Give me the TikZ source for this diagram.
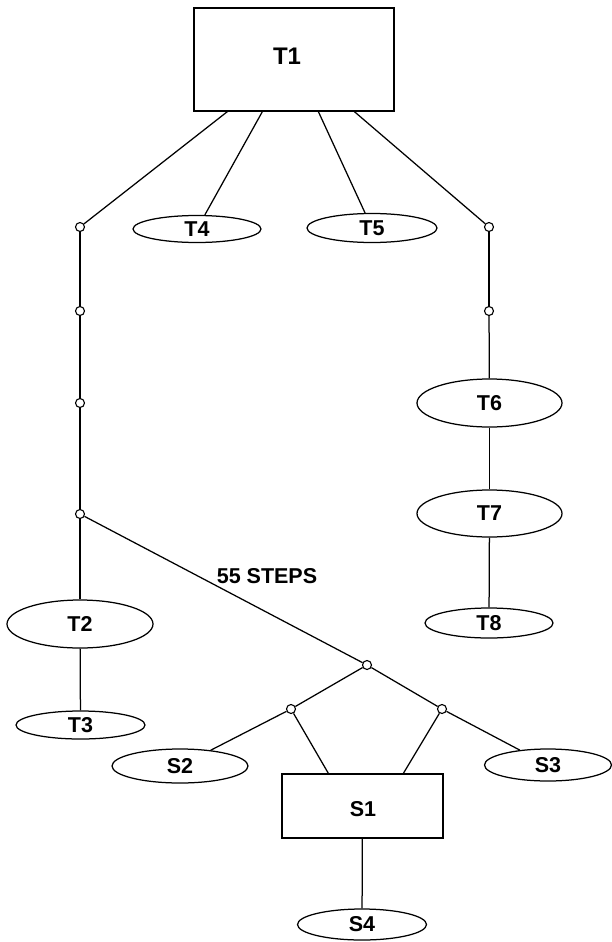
\documentclass[tikz,border=0pt]{standalone}
\usepackage{fontspec}
\setmainfont{Liberation Sans}
\usetikzlibrary{shapes.geometric}
\begin{document}
\begin{tikzpicture}[x=1pt,y=-1pt,line width=1.25pt,
  every node/.style={font=\fontsize{21.5}{25}\selectfont\bfseries},
  oval/.style={draw,ellipse,inner sep=0pt},
  box/.style={draw,rectangle,inner sep=0pt},
  junc/.style={draw,circle,fill=white,inner sep=0pt,minimum size=9pt,line width=1.1pt}]
\useasboundingbox (0,0) rectangle (611,942);
% boxes
\node[box,minimum width=200pt,minimum height=103pt] (T1) at (294,59.5) {};
\node[font=\fontsize{24}{28}\selectfont\bfseries] (T1t) at (287,56) {T1};
\node[box,minimum width=161pt,minimum height=64pt] (S1) at (362.5,806) {};
\node (S1t) at (363,809) {S1};
% ellipses
\node[oval,minimum width=128pt,minimum height=27pt] (T4) at (197,229) {T4};
\node[oval,minimum width=130pt,minimum height=29pt] (T5) at (372,228) {T5};
\node[oval,minimum width=145pt,minimum height=48pt] (T6) at (489.5,403) {T6};
\node[oval,minimum width=145pt,minimum height=47pt] (T7) at (489.5,513.5) {T7};
\node[oval,minimum width=128pt,minimum height=30pt] (T8) at (489,623) {T8};
\node[oval,minimum width=146pt,minimum height=48pt] (T2) at (80,624) {T2};
\node[oval,minimum width=129pt,minimum height=28pt] (T3) at (80.5,725) {T3};
\node[oval,minimum width=136pt,minimum height=34pt] (S2) at (180,766) {S2};
\node[oval,minimum width=127pt,minimum height=32pt] (S3) at (548,765) {S3};
\node[oval,minimum width=129pt,minimum height=31pt] (S4) at (362,924.5) {S4};
% label
\node (lab) at (267,576) {55 STEPS};
% junctions
\node[junc] (j1) at (80,227) {};
\node[junc] (j2) at (80,311) {};
\node[junc] (j3) at (80,403) {};
\node[junc] (j4) at (80,514) {};
\node[junc] (r1) at (489,227) {};
\node[junc] (r2) at (489,311) {};
\node[junc] (k0) at (367,665) {};
\node[junc] (k1) at (291,709) {};
\node[junc] (k2) at (442,709) {};
% connectors
\draw ([xshift=34pt]T1.south west) -- (j1);
\draw ([xshift=69pt]T1.south west) -- (T4);
\draw ([xshift=125pt]T1.south west) -- (T5);
\draw ([xshift=161pt]T1.south west) -- (r1);
\draw (j1) -- (j2);
\draw (j2) -- (j3);
\draw (j3) -- (j4);
\draw (j4) -- (T2);
\draw (T2) -- (T3);
\draw (j4) -- (k0);
\draw (k0) -- (k1);
\draw (k0) -- (k2);
\draw (k1) -- (S2);
\draw (k2) -- (S3);
\draw (k1) -- ([xshift=47pt]S1.north west);
\draw (k2) -- ([xshift=122pt]S1.north west);
\draw (S1) -- (S4);
\draw (r1) -- (r2);
\draw (r2) -- (T6);
\draw (T6) -- (T7);
\draw (T7) -- (T8);
\end{tikzpicture}
\end{document}
